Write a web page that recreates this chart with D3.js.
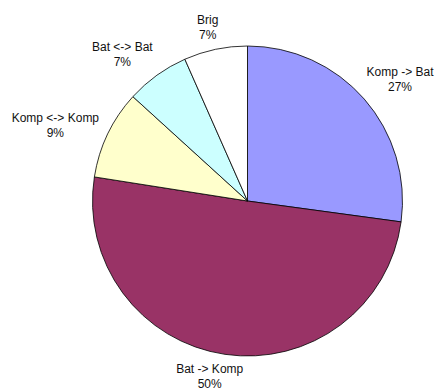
<!DOCTYPE html>
<html>
<head>
<meta charset="utf-8">
<script src="https://cdn.jsdelivr.net/npm/d3@7"></script>
<style>
  html, body { margin: 0; padding: 0; background: #fff; }
  svg { display: block; }
  text { font-family: Arial, "Liberation Sans", sans-serif; font-size: 12px; fill: #111; }
</style>
</head>
<body>
<svg id="chart" width="441" height="389"></svg>
<script>
// Slice categories, in clockwise order starting at 12 o'clock
const categories = ["Komp -> Bat", "Bat -> Komp", "Komp <-> Komp", "Bat <-> Bat", "Brig"];
// Number of cases per category
const counts = [41, 76, 14, 10, 10];
// Fill colour per slice
const colors = ["#9999FF", "#993366", "#FFFFCC", "#CCFFFF", "#FFFFFF"];

const width = 441, height = 389;
const cx = 247.5, cy = 201, radius = 155;

const data = categories.map((c, i) => ({ name: c, value: counts[i], color: colors[i] }));
const total = d3.sum(counts);
const pct = d3.format(".0%");

const svg = d3.select("#chart");
const g = svg.append("g").attr("transform", `translate(${cx},${cy})`);

const pie = d3.pie().value(d => d.value).sort(null);
const arc = d3.arc().innerRadius(0).outerRadius(radius);
const arcs = pie(data);

g.selectAll("path.slice")
  .data(arcs)
  .join("path")
  .attr("class", "slice")
  .attr("d", arc)
  .attr("fill", d => d.data.color)
  .attr("stroke", "#000")
  .attr("stroke-width", 0.8);

// Labels sit just outside the rim, pushed outward by half their box size,
// then given a small hand-tuned nudge so they don't crowd each other
const gap = 10, lineH = 15;
const nudge = [[3, -5], [-9, -4], [-4, 1], [-11, -2], [-3.5, 1]];

const labels = g.selectAll("g.label")
  .data(arcs)
  .join("g")
  .attr("class", "label");

labels.each(function (d, i) {
  const sel = d3.select(this);
  const t1 = sel.append("text").attr("text-anchor", "middle").text(d.data.name);
  const t2 = sel.append("text").attr("text-anchor", "middle").text(pct(d.data.value / total));
  const w = Math.max(t1.node().getComputedTextLength(), t2.node().getComputedTextLength());
  const h = 2 * lineH;
  const a = (d.startAngle + d.endAngle) / 2;
  const sx = Math.sin(a), sy = -Math.cos(a);
  const bx = (radius + gap) * sx + (w / 2) * sx + nudge[i][0];
  const by = (radius + gap) * sy + (h / 2) * sy + nudge[i][1];
  t1.attr("x", bx).attr("y", by - 2);
  t2.attr("x", bx).attr("y", by + lineH - 2);
});
</script>
</body>
</html>
